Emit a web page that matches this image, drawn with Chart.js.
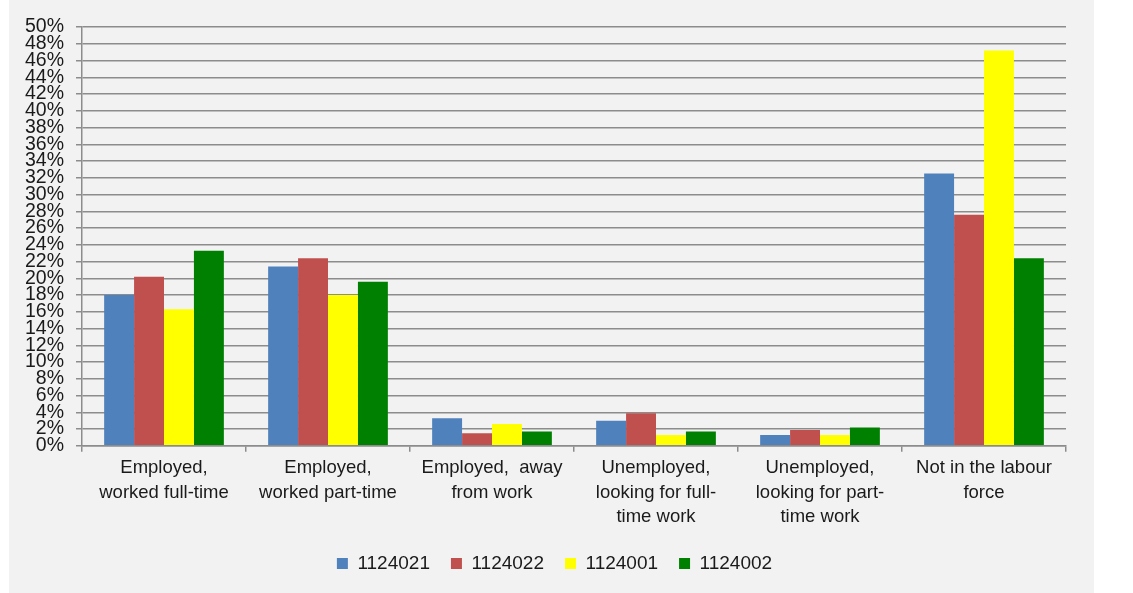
<!DOCTYPE html>
<html>
<head>
<meta charset="utf-8">
<script src="https://cdn.jsdelivr.net/npm/chart.js@4"></script>
<style>
  html, body { margin: 0; padding: 0; background: #fff; }
  #panel { position: absolute; left: 9px; top: 0; width: 1085px; height: 593px; background: #f2f2f2; }
</style>
</head>
<body>
<div id="panel"><canvas id="barStatus"></canvas></div>
<script>
// categorias e valores (em %)
const categorias = [
    ['Employed,', 'worked full-time'],
    ['Employed,', 'worked part-time'],
    ['Employed,  away', 'from work'],
    ['Unemployed,', 'looking for full-', 'time work'],
    ['Unemployed,', 'looking for part-', 'time work'],
    ['Not in the labour', 'force']
];
const series = ['1124021', '1124022', '1124001', '1124002'];
const valores1124021 = [18.0, 21.4, 3.3, 3.0, 1.3, 32.5];
const valores1124022 = [20.2, 22.4, 1.5, 3.9, 1.9, 27.6];
const valores1124001 = [16.3, 18.0, 2.6, 1.3, 1.3, 47.2];
const valores1124002 = [23.3, 19.6, 1.7, 1.7, 2.2, 22.4];
const cores = ['#4f81bd', '#c0504d', '#ffff00', '#008000'];

const fonte = "'Liberation Sans', Arial, sans-serif";
const corGrade = '#8c8c8c';

const dadosStatus = {
    labels: categorias,
    datasets: [valores1124021, valores1124022, valores1124001, valores1124002].map((v, i) => ({
        label: series[i],
        data: v,
        backgroundColor: cores[i],
        borderWidth: 0,
        barPercentage: 1,
        categoryPercentage: 0.73
    }))
};

// centraliza a legenda no painel (o padding da direita a desloca)
const moverLegenda = {
    id: 'moverLegenda',
    afterLayout(chart) {
        chart.legend.left += 17;
        chart.legend.right += 17;
    }
};

const configStatus = {
    type: 'bar',
    data: dadosStatus,
    plugins: [moverLegenda],
    options: {
        responsive: false,
        animation: false,
        layout: {
            padding: { top: 27, right: 28, left: 0, bottom: 10 }
        },
        scales: {
            x: {
                grid: {
                    offset: true,
                    drawOnChartArea: false,
                    drawTicks: true,
                    tickLength: 6,
                    color: corGrade,
                    lineWidth: 1.5
                },
                border: { display: true, color: corGrade, width: 1.5 },
                ticks: {
                    color: '#1a1a1a',
                    maxRotation: 0,
                    autoSkip: false,
                    padding: 4.5,
                    font: { size: 18.5, family: fonte, lineHeight: 1.3 }
                }
            },
            y: {
                min: 0,
                max: 50,
                afterFit: (axis) => { axis.width = 73; },
                grid: {
                    color: corGrade,
                    lineWidth: 1.5,
                    tickLength: 6
                },
                border: { display: true, color: corGrade, width: 1.5 },
                ticks: {
                    stepSize: 2,
                    autoSkip: false,
                    color: '#1a1a1a',
                    padding: 12,
                    font: { size: 19.5, family: fonte, lineHeight: 1 },
                    callback: (v) => v + '%'
                }
            }
        },
        plugins: {
            legend: {
                position: 'bottom',
                labels: {
                    boxWidth: 11,
                    boxHeight: 11,
                    padding: 21,
                    color: '#1a1a1a',
                    font: { size: 19, family: fonte }
                }
            },
            tooltip: { enabled: false }
        }
    }
};

const ctxStatus = document.getElementById('barStatus').getContext('2d');
ctxStatus.canvas.width = 1085;
ctxStatus.canvas.height = 593;
new Chart(ctxStatus, configStatus);
</script>
</body>
</html>
